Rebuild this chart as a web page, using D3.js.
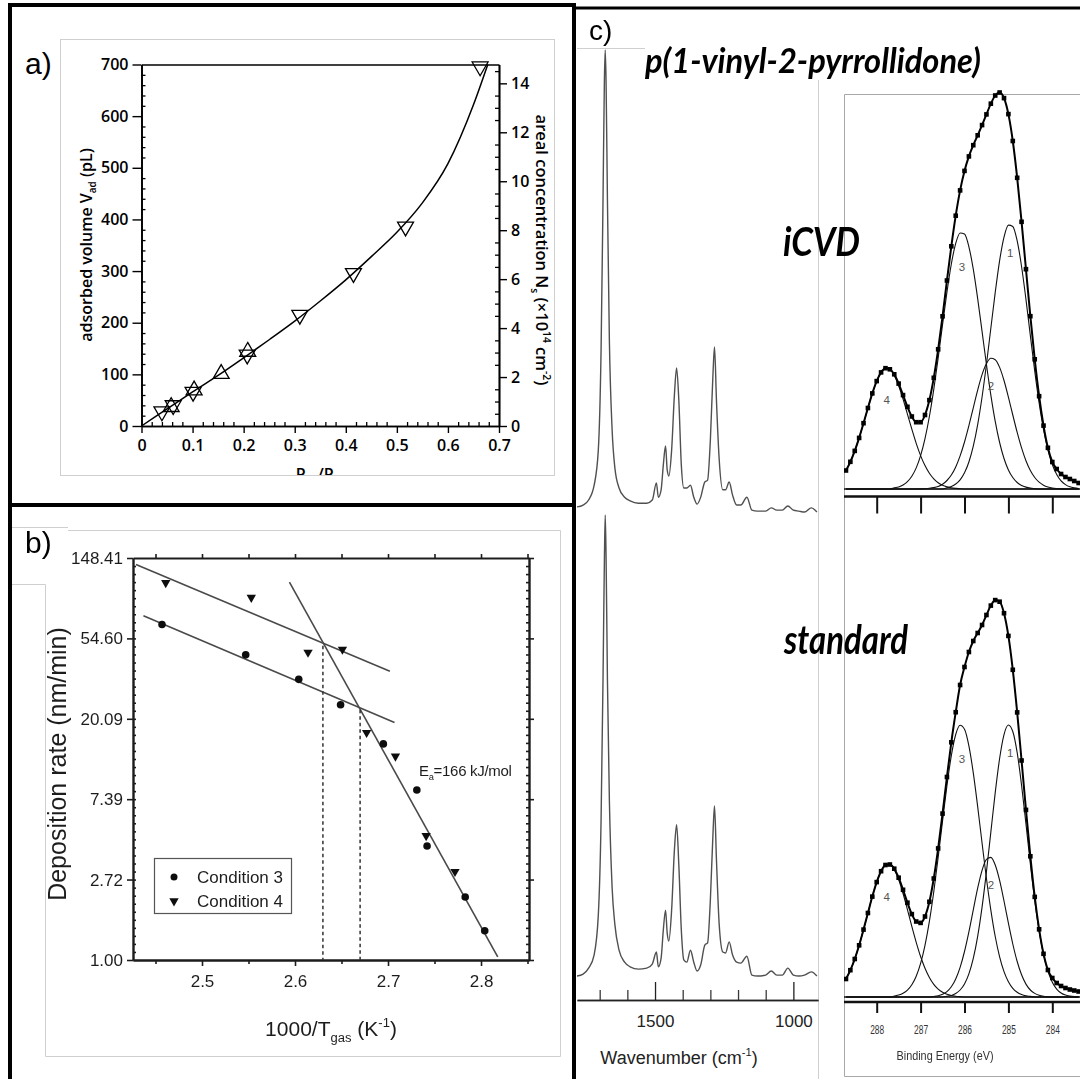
<!DOCTYPE html>
<html>
<head>
<meta charset="utf-8">
<title>Adsorption isotherm, deposition kinetics and spectra of p(1-vinyl-2-pyrrollidone)</title>
<script src="https://cdn.jsdelivr.net/npm/d3@7/dist/d3.min.js"></script>
<style>
  html, body { margin: 0; padding: 0; background: #fff; }
  svg { display: block; }
</style>
</head>
<body>
<svg id="figure" width="1080" height="1079"></svg>
<script>
// ---------------- (a) adsorption isotherm ----------------
const isoDownP = [0.040, 0.062, 0.101, 0.207, 0.310, 0.415, 0.517, 0.663];
const isoDownV = [28, 40, 66, 138, 215, 296, 386, 696];
const isoUpP = [0.058, 0.103, 0.156, 0.208];
const isoUpV = [37, 69, 101, 144];
const isoFitP = [0, 0.05, 0.1, 0.15, 0.2, 0.25, 0.3, 0.35, 0.4, 0.45, 0.5, 0.55, 0.6, 0.65, 0.678];
const isoFitV = [0, 33, 66, 98, 132, 167, 203, 242, 283, 328, 375, 432, 508, 622, 700];
const isoTicksX = [0, 0.1, 0.2, 0.3, 0.4, 0.5, 0.6, 0.7];
const isoTicksV = [0, 100, 200, 300, 400, 500, 600, 700];
const isoTicksN = [0, 2, 4, 6, 8, 10, 12, 14];

// ---------------- (b) deposition rate vs 1000/T ----------------
const cond3T = [2.457, 2.547, 2.604, 2.649, 2.695, 2.731, 2.742, 2.783, 2.804];
const cond3Rate = [64.9, 44.5, 32.8, 23.9, 14.7, 8.28, 4.13, 2.19, 1.44];
const cond4T = [2.461, 2.553, 2.614, 2.651, 2.677, 2.708, 2.741, 2.772];
const cond4Rate = [109, 90.8, 45.9, 47.6, 16.9, 12.6, 4.69, 3.0];
const fitHighT = [2.429, 2.702];
const fitHighRate = [136.8, 36.3];
const fitLowT = [2.437, 2.707];
const fitLowRate = [72.4, 19.2];
const fitSteepT = [2.594, 2.818];
const fitSteepRate = [110, 1.04];
const transitionT = [2.630, 2.670];
const transitionRate = [49.9, 22.5];
const rateTickValues = [1.00, 2.72, 7.39, 20.09, 54.60, 148.41];
const rateTickLabels = ["1.00", "2.72", "7.39", "20.09", "54.60", "148.41"];
const invTempTicks = [2.5, 2.6, 2.7, 2.8];
const invTempMinorTicks = [2.45, 2.55, 2.65, 2.75, 2.85];

// ---------------- (c) FTIR spectra ----------------
const irWavenumber = [1782,1760,1740,1720,1705,1695,1688,1683,1680,1677,1672,1665,1655,1645,1630,1610,1590,1560,1530,1510,
  1495,1488,1478,1470,1462,1456,1450,1440,1430,1422,1414,1405,1396,1385,1372,1360,1348,1335,1320,1310,
  1300,1290,1285,1278,1268,1255,1245,1232,1220,1205,1190,1168,1150,1130,1100,1080,1060,1040,1020,1000,
  980,960,935,915];
const irICVD = [0.011,0.015,0.026,0.058,0.134,0.35,0.675,0.935,1.0,0.935,0.675,0.372,0.177,0.095,0.052,0.032,0.024,0.019,0.019,0.026,
  0.063,0.032,0.048,0.102,0.143,0.091,0.078,0.134,0.253,0.312,0.242,0.102,0.052,0.052,0.058,0.032,0.017,0.032,0.065,0.069,
  0.156,0.307,0.357,0.242,0.113,0.048,0.048,0.065,0.037,0.015,0.015,0.032,0.004,0.002,0.002,0.009,0.004,0.004,0.013,0.004,
  0.002,0,0.009,0];
const irStandard = [0,0.004,0.017,0.046,0.132,0.338,0.642,0.902,1.0,0.913,0.642,0.382,0.191,0.111,0.056,0.030,0.020,0.015,0.017,0.026,
  0.052,0.020,0.039,0.1,0.143,0.093,0.076,0.143,0.273,0.328,0.241,0.1,0.035,0.030,0.056,0.030,0.011,0.024,0.067,0.072,
  0.165,0.317,0.369,0.252,0.111,0.052,0.050,0.074,0.046,0.030,0.028,0.043,0.002,0,0.002,0.011,0.002,0.002,0.017,0.002,
  0,0.002,0.009,0];
const irMajorTicks = [1500, 1000];
const irMinorTicks = [1700, 1600, 1400, 1300, 1200, 1100];

// ---------------- (c) XPS C1s spectra ----------------
const xpsBE = [288.7,288.6,288.5,288.4,288.3,288.2,288.1,288.0,287.9,287.8,287.7,287.6,287.5,287.4,287.3,287.2,287.1,287.0,
  286.9,286.8,286.7,286.6,286.5,286.4,286.3,286.2,286.1,286.0,285.9,285.8,285.7,285.6,285.5,285.4,285.3,285.2,285.1,285.0,
  284.9,284.8,284.7,284.6,284.5,284.4,284.3,284.2,284.1,284.0,283.9,283.8,283.7,283.6,283.5,283.4];
const xpsTicks = [288, 287, 286, 285, 284];

const icvdEnvelope = [18.5,27.2,38.1,51.1,65.8,81.0,95.6,107.9,116.6,120.8,119.7,114.7,105.4,93.9,82.2,72.5,66.8,66.8,
  74.0,88.9,111.2,139.7,172.7,208.5,242.7,273.3,298.6,318.1,332.6,343.8,353.7,363.9,374.6,385.3,393.5,396.5,390.9,374.9,
  348.0,311.2,267.2,219.8,172.8,129.7,92.8,63.4,41.2,27,20,15,12,10,8,6];
const icvdPeak1 = [0,0,0,0,0,0,0,0,0,0,0,0,0,0,0,0,0,0,0,0,0,0,0,
  1.2,2.6,5.0,9.2,16.2,27.0,42.8,64.4,92.0,124.7,160.7,196.6,228.4,251.9,263.9,262.5,248.1,222.5,189.6,153.4,117.8,86.0,
  59.6,39.2,24.5,14.6,8.2,4.4,2.2,1.1,0.5];
const icvdPeak2 = [0,0,0,0,0,0,0,0,0,0,0,0,0,0,0,0,0,
  0.1,0.3,0.7,1.4,2.6,4.8,8.5,14.0,22.1,33.1,47.0,63.4,81.2,98.9,114.3,125.4,130.7,129.3,121.6,108.5,91.9,74.0,56.6,41.1,
  28.3,18.5,11.5,6.8,3.8,2.0,1.0,0.5,0.2,0,0,0,0];
const icvdPeak3 = [0,0,0,0,0,0,0,0,0,0,0,
  1.1,2.1,4.0,7.3,12.7,21.1,33.3,50.3,72.5,99.7,130.9,164.2,196.7,225.0,245.6,256.0,254.9,242.2,219.8,190.4,157.6,124.5,
  93.9,67.6,46.5,30.5,19.1,11.5,6.5,3.6,1.9,0.9,0.4,0,0,0,0,0,0,0,0,0,0];
const icvdPeak4 = [18.5,27.2,38.1,51.1,65.8,81.0,95.6,107.9,116.6,120.8,119.7,113.6,103.3,89.9,74.9,59.8,45.7,33.4,23.4,
  15.7,10.1,6.2,3.7,2.1,1.1,0.6,0.3,0,0,0,0,0,0,0,0,0,0,0,0,0,0,0,0,0,0,0,0,0,0,0,0,0,0,0];

const stdEnvelope = [18.0,26.8,38.0,51.7,67.4,84.0,100.4,114.9,125.8,132.0,132.5,128.3,119.3,107.2,94.3,82.9,75.5,74.1,
  80.5,95.2,118.5,148.6,183.4,220.0,254.7,284.8,312,330,345,356,364,372,382,391.4,396.9,395.3,383.8,361.1,
  327.2,284.6,236.5,187.1,140.7,100.1,67.7,43.2,27,19,14,11,9,7.5,6.5,5.5];
const stdPeak1 = [0,0,0,0,0,0,0,0,0,0,0,0,0,0,0,0,0,0,0,0,0,0,0,
  0.7,1.6,3.5,7.0,13.1,23.1,38.6,60.7,89.9,125.4,164.9,204.4,238.5,262.4,272.0,265.5,244.3,211.8,173.0,133.1,96.5,66.0,
  42.5,25.8,14.7,7.9,4.0,1.9,0.9,0.4,0.2];
const stdPeak2 = [0,0,0,0,0,0,0,0,0,0,0,0,0,0,0,0,0,0,0,0,
  0.5,1.2,2.7,5.4,10.2,18.0,29.6,45.5,65.2,87.2,108.8,126.7,137.6,139.6,132.0,116.6,96.0,73.8,53.0,35.5,22.2,12.9,7.0,
  3.6,1.7,0.7,0.3,0,0,0,0,0,0,0];
const stdPeak3 = [0,0,0,0,0,0,0,0,0,0,0,
  0.9,1.9,3.7,6.9,12.3,20.8,33.6,51.7,75.6,105.3,139.5,176.0,211.2,241.4,262.5,271.7,267.7,251.1,224.1,190.4,154.0,118.5,
  86.9,60.5,40.2,25.4,15.3,8.7,4.8,2.5,1.2,0.6,0,0,0,0,0,0,0,0,0,0,0];
const stdPeak4 = [18.0,26.8,38.0,51.7,67.4,84.0,100.4,114.9,125.8,132.0,132.5,127.4,117.4,103.5,87.4,70.6,54.7,40.5,28.8,
  19.6,12.7,7.9,4.7,2.7,1.5,0.8,0.4,0,0,0,0,0,0,0,0,0,0,0,0,0,0,0,0,0,0,0,0,0,0,0,0,0,0,0];
const componentLabels = ["1", "2", "3", "4"];
const componentLabelBE = [284.96, 285.4, 286.06, 287.77];

// ---------------------------------------------------------------
const svg = d3.select("#figure");
svg.append("rect").attr("width", 1080).attr("height", 1079).attr("fill", "#fff");

const defs = svg.append("defs");
defs.append("filter").attr("id", "soft").append("feGaussianBlur").attr("stdDeviation", 0.45);
defs.append("clipPath").attr("id", "clipTitleA").append("rect")
  .attr("x", 60).attr("y", 40).attr("width", 495).attr("height", 435);
defs.append("clipPath").attr("id", "clipIR").append("rect")
  .attr("x", 577).attr("y", 40).attr("width", 241).attr("height", 1039);
defs.append("clipPath").attr("id", "clipXPS").append("rect")
  .attr("x", 844).attr("y", 60).attr("width", 236).attr("height", 1019);

// text with sub/superscripts: parts = [[text, "sub"|"sup"|undefined], ...]
function rich(parent, x, y, parts, attrs) {
  const t = parent.append("text").attr("x", x).attr("y", y);
  Object.entries(attrs).forEach(([k, v]) => t.attr(k, v));
  const fs = attrs["font-size"];
  let shift = 0;
  parts.forEach(p => {
    const s = t.append("tspan").text(p[0]);
    const target = p[1] === "sub" ? 0.28 : p[1] === "sup" ? -0.42 : 0;
    const dy = (target - shift) * fs;
    if (dy) s.attr("dy", dy.toFixed(2));
    if (p[1]) s.attr("font-size", fs * 0.62);
    shift = target;
  });
  return t;
}

function styleAxis(sel, font, size, weight, color, width) {
  sel.attr("font-family", font).attr("font-size", size);
  sel.selectAll("text").attr("font-weight", weight).attr("fill", color);
  sel.selectAll("line").attr("stroke", color).attr("stroke-width", width);
  sel.selectAll("path.domain").attr("stroke", color).attr("stroke-width", width + 0.3);
}

// light frames of the embedded plot images
const frames = svg.append("g").attr("fill", "none").attr("stroke", "#cfcfcf").attr("stroke-width", 1);
frames.append("rect").attr("x", 60.5).attr("y", 39.5).attr("width", 494).attr("height", 436);
frames.append("path").attr("d", "M68,530.5H560.5V1056.5H45.5V584.5 M10,527.5H68 M10,584.5H45.5");
frames.append("path").attr("d", "M577,48.5H645 M818.5,80V1079");
frames.append("path").attr("stroke", "#a8a8a8").attr("d", "M1080,94.5H844.5V1076.5H1080");

// ======================= panel (a) =======================
const fontA = "'Open Sans', 'Noto Sans', sans-serif";
const gA = svg.append("g");
const xA = d3.scaleLinear().domain([0, 0.7]).range([141.5, 499]);
const yA = d3.scaleLinear().domain([0, 700]).range([426, 64.5]);
const yA2 = d3.scaleLinear().domain([0, 14.77]).range([426, 64.5]);

const aMinorX = d3.range(0.02, 0.7, 0.02).filter(v => Math.round(v * 50) % 5 !== 0);
const aMinorV = d3.range(20, 700, 20).filter(v => v % 100 !== 0);
const aMinorN = d3.range(0.5, 14.77, 0.5).filter(v => v % 2 !== 0);

gA.append("g").attr("transform", "translate(0,426)")
  .call(d3.axisBottom(xA).tickValues(aMinorX).tickFormat(() => "").tickSizeInner(-4).tickSizeOuter(0))
  .call(s => styleAxis(s, fontA, 16, 600, "#000", 1.3));
gA.append("g").attr("transform", "translate(0,426)")
  .call(d3.axisBottom(xA).tickValues(isoTicksX).tickFormat(d => d === 0 ? "0" : d.toFixed(1))
    .tickSizeInner(7).tickSizeOuter(0).tickPadding(7))
  .call(s => styleAxis(s, fontA, 16, 600, "#000", 1.4));
gA.append("g").attr("transform", "translate(0,64.5)")
  .call(d3.axisTop(xA).tickValues([]).tickSizeOuter(0))
  .call(s => styleAxis(s, fontA, 16, 600, "#000", 1.3));
gA.append("g").attr("transform", "translate(141.5,0)")
  .call(d3.axisLeft(yA).tickValues(aMinorV).tickFormat(() => "").tickSizeInner(-4).tickSizeOuter(0))
  .call(s => styleAxis(s, fontA, 16, 600, "#000", 1.3));
gA.append("g").attr("transform", "translate(141.5,0)")
  .call(d3.axisLeft(yA).tickValues(isoTicksV).tickSizeInner(9).tickSizeOuter(0).tickPadding(4))
  .call(s => styleAxis(s, fontA, 16, 600, "#000", 1.4));
gA.append("g").attr("transform", "translate(499,0)")
  .call(d3.axisRight(yA2).tickValues(aMinorN).tickFormat(() => "").tickSizeInner(-4).tickSizeOuter(0))
  .call(s => styleAxis(s, fontA, 16, 600, "#000", 1.3));
gA.append("g").attr("transform", "translate(499,0)")
  .call(d3.axisRight(yA2).tickValues(isoTicksN).tickSizeInner(8).tickSizeOuter(0).tickPadding(4))
  .call(s => styleAxis(s, fontA, 16, 600, "#000", 1.4));

gA.append("path")
  .datum(d3.zip(isoFitP, isoFitV))
  .attr("fill", "none").attr("stroke", "#000").attr("stroke-width", 1.5)
  .attr("d", d3.line().x(d => xA(d[0])).y(d => yA(d[1])).curve(d3.curveMonotoneX));

const triA = d3.symbol().type(d3.symbolTriangle).size(110);
gA.selectAll("path.iso-up").data(d3.zip(isoUpP, isoUpV)).join("path")
  .attr("class", "iso-up").attr("d", triA)
  .attr("transform", d => `translate(${xA(d[0])},${yA(d[1])})`)
  .attr("fill", "none").attr("stroke", "#000").attr("stroke-width", 1.3);
gA.selectAll("path.iso-down").data(d3.zip(isoDownP, isoDownV)).join("path")
  .attr("class", "iso-down").attr("d", triA)
  .attr("transform", d => `translate(${xA(d[0])},${yA(d[1])}) rotate(180)`)
  .attr("fill", "none").attr("stroke", "#000").attr("stroke-width", 1.3);

rich(gA, 0, 0, [["adsorbed volume V"], ["ad", "sub"], [" (pL)"]],
  {"font-family": fontA, "font-size": 16, "font-weight": 600, "text-anchor": "middle"})
  .attr("transform", "translate(92,245) rotate(-90)");
rich(gA, 0, 0, [["areal concentration N"], ["s", "sub"], [" (\u00d710"], ["14", "sup"], [" cm"], ["-2", "sup"], [")"]],
  {"font-family": fontA, "font-size": 16.5, "font-weight": 600, "text-anchor": "middle"})
  .attr("transform", "translate(536,250) rotate(90)");
rich(gA.append("g").attr("clip-path", "url(#clipTitleA)"), 322, 480, [["P"], ["ad", "sub"], ["/P"], ["sat", "sub"]],
  {"font-family": fontA, "font-size": 16, "font-weight": 600, "text-anchor": "middle"});

svg.append("text").attr("x", 25).attr("y", 74).text("a)")
  .attr("font-family", "'Liberation Sans', Arial, sans-serif").attr("font-size", 30);

// ======================= panel (b) =======================
const fontB = "'Liberation Sans', Arial, sans-serif";
const gB = svg.append("g").attr("filter", "url(#soft)");
const xB = d3.scaleLinear().domain([2.4258, 2.8516]).range([133, 529]);
const yB = d3.scaleLog().domain([1, 148.41]).range([960, 558]);
const bMinorRate = d3.range(1, 50).map(k => Math.exp(k / 10));
const inkB = "#1e1e1e";

gB.append("g").attr("transform", "translate(0,960)")
  .call(d3.axisBottom(xB).tickValues(invTempMinorTicks).tickFormat(() => "").tickSizeInner(4).tickSizeOuter(0))
  .call(s => styleAxis(s, fontB, 17, 400, inkB, 1.6));
gB.append("g").attr("transform", "translate(0,960)")
  .call(d3.axisBottom(xB).tickValues(invTempTicks).tickFormat(d3.format(".1f")).tickSizeInner(6).tickSizeOuter(0).tickPadding(9))
  .call(s => styleAxis(s, fontB, 17, 400, inkB, 1.6));
gB.append("g").attr("transform", "translate(0,558)")
  .call(d3.axisTop(xB).tickValues(invTempTicks.concat(invTempMinorTicks)).tickFormat(() => "").tickSizeInner(4).tickSizeOuter(0))
  .call(s => styleAxis(s, fontB, 17, 400, inkB, 1.6));
gB.append("g").attr("transform", "translate(133,0)")
  .call(d3.axisLeft(yB).tickValues(bMinorRate).tickFormat(() => "").tickSizeInner(-3).tickSizeOuter(0))
  .call(s => styleAxis(s, fontB, 17, 400, inkB, 1.6));
gB.append("g").attr("transform", "translate(133,0)")
  .call(d3.axisLeft(yB).tickValues(rateTickValues).tickFormat((d, i) => rateTickLabels[i]).tickSizeInner(6).tickSizeOuter(0).tickPadding(4))
  .call(s => styleAxis(s, fontB, 17, 400, inkB, 1.6));
gB.append("g").attr("transform", "translate(529,0)")
  .call(d3.axisRight(yB).tickValues(bMinorRate).tickFormat(() => "").tickSizeInner(-3).tickSizeOuter(0))
  .call(s => styleAxis(s, fontB, 17, 400, inkB, 1.6));
gB.append("g").attr("transform", "translate(529,0)")
  .call(d3.axisRight(yB).tickValues(rateTickValues).tickFormat(() => "").tickSizeInner(5).tickSizeOuter(0))
  .call(s => styleAxis(s, fontB, 17, 400, inkB, 1.6));

const lineB = d3.line().x(d => xB(d[0])).y(d => yB(d[1]));
[[fitHighT, fitHighRate], [fitLowT, fitLowRate], [fitSteepT, fitSteepRate]].forEach(([t, r]) => {
  gB.append("path").datum(d3.zip(t, r)).attr("d", lineB)
    .attr("fill", "none").attr("stroke", "#4a4a4a").attr("stroke-width", 1.6);
});
transitionT.forEach((t, i) => {
  gB.append("line")
    .attr("x1", xB(t)).attr("x2", xB(t)).attr("y1", yB(transitionRate[i])).attr("y2", yB(1))
    .attr("stroke", "#333").attr("stroke-width", 1.5).attr("stroke-dasharray", "3.5,3");
});

gB.selectAll("circle.c3").data(d3.zip(cond3T, cond3Rate)).join("circle")
  .attr("class", "c3").attr("cx", d => xB(d[0])).attr("cy", d => yB(d[1])).attr("r", 3.8).attr("fill", "#111");
const triB = d3.symbol().type(d3.symbolTriangle).size(38);
gB.selectAll("path.c4").data(d3.zip(cond4T, cond4Rate)).join("path")
  .attr("class", "c4").attr("d", triB)
  .attr("transform", d => `translate(${xB(d[0])},${yB(d[1])}) rotate(180)`).attr("fill", "#111");

// legend
gB.append("rect").attr("x", 154.5).attr("y", 858.5).attr("width", 137).attr("height", 55)
  .attr("fill", "#fff").attr("stroke", "#555").attr("stroke-width", 1.2);
gB.append("circle").attr("cx", 174).attr("cy", 877).attr("r", 3.5).attr("fill", "#111");
gB.append("path").attr("d", triB).attr("transform", "translate(174,901) rotate(180)").attr("fill", "#111");
gB.append("text").attr("x", 197).attr("y", 883).text("Condition 3")
  .attr("font-family", fontB).attr("font-size", 17).attr("fill", inkB);
gB.append("text").attr("x", 197).attr("y", 907).text("Condition 4")
  .attr("font-family", fontB).attr("font-size", 17).attr("fill", inkB);

rich(gB, 419, 776, [["E"], ["a", "sub"], ["=166 kJ/mol"]],
  {"font-family": fontB, "font-size": 15, "fill": inkB, "letter-spacing": -0.3});
rich(gB, 0, 0, [["Deposition rate (nm/min)"]],
  {"font-family": fontB, "font-size": 25, "fill": inkB, "text-anchor": "middle"})
  .attr("transform", "translate(66,764) rotate(-90)");
rich(gB, 331, 1036, [["1000/T"], ["gas", "sub"], [" (K"], ["-1", "sup"], [")"]],
  {"font-family": fontB, "font-size": 21, "fill": inkB, "text-anchor": "middle"});

svg.append("text").attr("x", 25).attr("y", 553).text("b)")
  .attr("font-family", fontB).attr("font-size", 30);

// ======================= panel (c) : FTIR =======================
const gIR = svg.append("g");
const xIR = d3.scaleLinear().domain([1782, 911]).range([577, 818]);
const yIRtop = d3.scaleLinear().domain([0, 1]).range([512, 50]);
const yIRbot = d3.scaleLinear().domain([0, 1]).range([976, 515]);
const irPlot = gIR.append("g").attr("clip-path", "url(#clipIR)");
[[irICVD, yIRtop], [irStandard, yIRbot]].forEach(([vals, yS]) => {
  irPlot.append("path").datum(d3.zip(irWavenumber, vals))
    .attr("fill", "none").attr("stroke", "#505050").attr("stroke-width", 1.4)
    .attr("d", d3.line().x(d => xIR(d[0])).y(d => yS(d[1])).curve(d3.curveMonotoneX));
});
gIR.append("g").attr("transform", "translate(0,1000)")
  .call(d3.axisBottom(xIR).tickValues(irMinorTicks).tickFormat(() => "").tickSizeInner(-10).tickSizeOuter(0))
  .call(s => styleAxis(s, fontB, 17, 400, "#3a3a3a", 1.3));
gIR.append("g").attr("transform", "translate(0,1000)")
  .call(d3.axisBottom(xIR).tickValues(irMajorTicks).tickFormat(d3.format("d")).tickSizeInner(-18).tickSizeOuter(0).tickPadding(15))
  .call(s => styleAxis(s, fontB, 17, 400, "#222", 1.3));
rich(gIR, 679, 1064, [["Wavenumber (cm"], ["-1", "sup"], [")"]],
  {"font-family": fontB, "font-size": 18, "fill": "#222", "text-anchor": "middle"});

// ======================= panel (c) : XPS =======================
const gX = svg.append("g");
const xX = d3.scaleLinear().domain([288, 284]).range([876.7, 1052.3]);
const yXtop = d3.scaleLinear().domain([0, 400]).range([489, 89]);
const yXbot = d3.scaleLinear().domain([0, 400]).range([997, 597]);
const xpsPlot = gX.append("g").attr("clip-path", "url(#clipXPS)");

function drawXPS(yS, envelope, peaks, baseY, axisY, tickLen, labelDy) {
  xpsPlot.append("line").attr("x1", 844).attr("x2", 1080).attr("y1", baseY).attr("y2", baseY)
    .attr("stroke", "#111").attr("stroke-width", 1.6);
  peaks.forEach(p => {
    xpsPlot.append("path").datum(d3.zip(xpsBE, p))
      .attr("fill", "none").attr("stroke", "#111").attr("stroke-width", 1.1)
      .attr("d", d3.line().x(d => xX(d[0])).y(d => yS(d[1])).curve(d3.curveMonotoneX));
  });
  xpsPlot.append("path").datum(d3.zip(xpsBE, envelope))
    .attr("fill", "none").attr("stroke", "#000").attr("stroke-width", 2)
    .attr("d", d3.line().x(d => xX(d[0])).y(d => yS(d[1])).curve(d3.curveMonotoneX));
  xpsPlot.selectAll(null).data(d3.zip(xpsBE, envelope)).join("rect")
    .attr("x", d => xX(d[0]) - 2.3).attr("y", d => yS(d[1]) - 2.3)
    .attr("width", 4.6).attr("height", 4.6).attr("fill", "#000");
  const ax = xpsPlot.append("g").attr("transform", `translate(0,${axisY})`)
    .call(d3.axisBottom(xX).tickValues(xpsTicks).tickFormat(d3.format("d")).tickSizeInner(tickLen).tickSizeOuter(0).tickPadding(labelDy));
  ax.select("path.domain").attr("d", `M844,0H1080`);
  styleAxis(ax, fontB, 12, 400, "#111", 2);
  ax.selectAll("text").attr("fill", "#333").attr("textLength", 14).attr("lengthAdjust", "spacingAndGlyphs");
  peaks.forEach((p, i) => {
    const j = p.indexOf(d3.max(p));
    xpsPlot.append("text").attr("x", xX(componentLabelBE[i]))
      .attr("y", yS(p[j]) + [32, 32, 38, 36][i]).attr("text-anchor", "middle")
      .attr("font-family", fontB).attr("font-size", 11.5).attr("fill", "#555").text(componentLabels[i]);
  });
  return ax;
}
const axTop = drawXPS(yXtop, icvdEnvelope, [icvdPeak1, icvdPeak2, icvdPeak3, icvdPeak4], 489, 496.5, 17, 40);
axTop.selectAll("text").remove();
drawXPS(yXbot, stdEnvelope, [stdPeak1, stdPeak2, stdPeak3, stdPeak4], 997, 1002, 11, 12);
gX.append("text").attr("x", 945).attr("y", 1060).text("Binding Energy (eV)")
  .attr("text-anchor", "middle").attr("font-family", fontB).attr("font-size", 13).attr("fill", "#333")
  .attr("textLength", 97).attr("lengthAdjust", "spacingAndGlyphs");

// ======================= panel (c) titles =======================
const fontC = "Lato, 'Open Sans', sans-serif";
svg.append("text").attr("x", 645).attr("y", 73).text("p(1-vinyl-2-pyrrollidone)")
  .attr("font-family", fontC).attr("font-size", 34).attr("font-weight", 700).attr("font-style", "italic")
  .attr("textLength", 336).attr("lengthAdjust", "spacingAndGlyphs");
svg.append("text").attr("x", 783).attr("y", 256).text("iCVD")
  .attr("font-family", fontC).attr("font-size", 40).attr("font-weight", 700).attr("font-style", "italic")
  .attr("textLength", 77).attr("lengthAdjust", "spacingAndGlyphs");
svg.append("text").attr("x", 784).attr("y", 654).text("standard")
  .attr("font-family", fontC).attr("font-size", 40).attr("font-weight", 700).attr("font-style", "italic")
  .attr("textLength", 124).attr("lengthAdjust", "spacingAndGlyphs");
svg.append("text").attr("x", 589).attr("y", 40).text("c)")
  .attr("font-family", fontB).attr("font-size", 28);

// panel borders
svg.append("path").attr("d", "M10,1079V5H574V1079 M10,505H574")
  .attr("fill", "none").attr("stroke", "#000").attr("stroke-width", 4);
svg.append("path").attr("d", "M574,8H1080")
  .attr("fill", "none").attr("stroke", "#000").attr("stroke-width", 3);
</script>
</body>
</html>
